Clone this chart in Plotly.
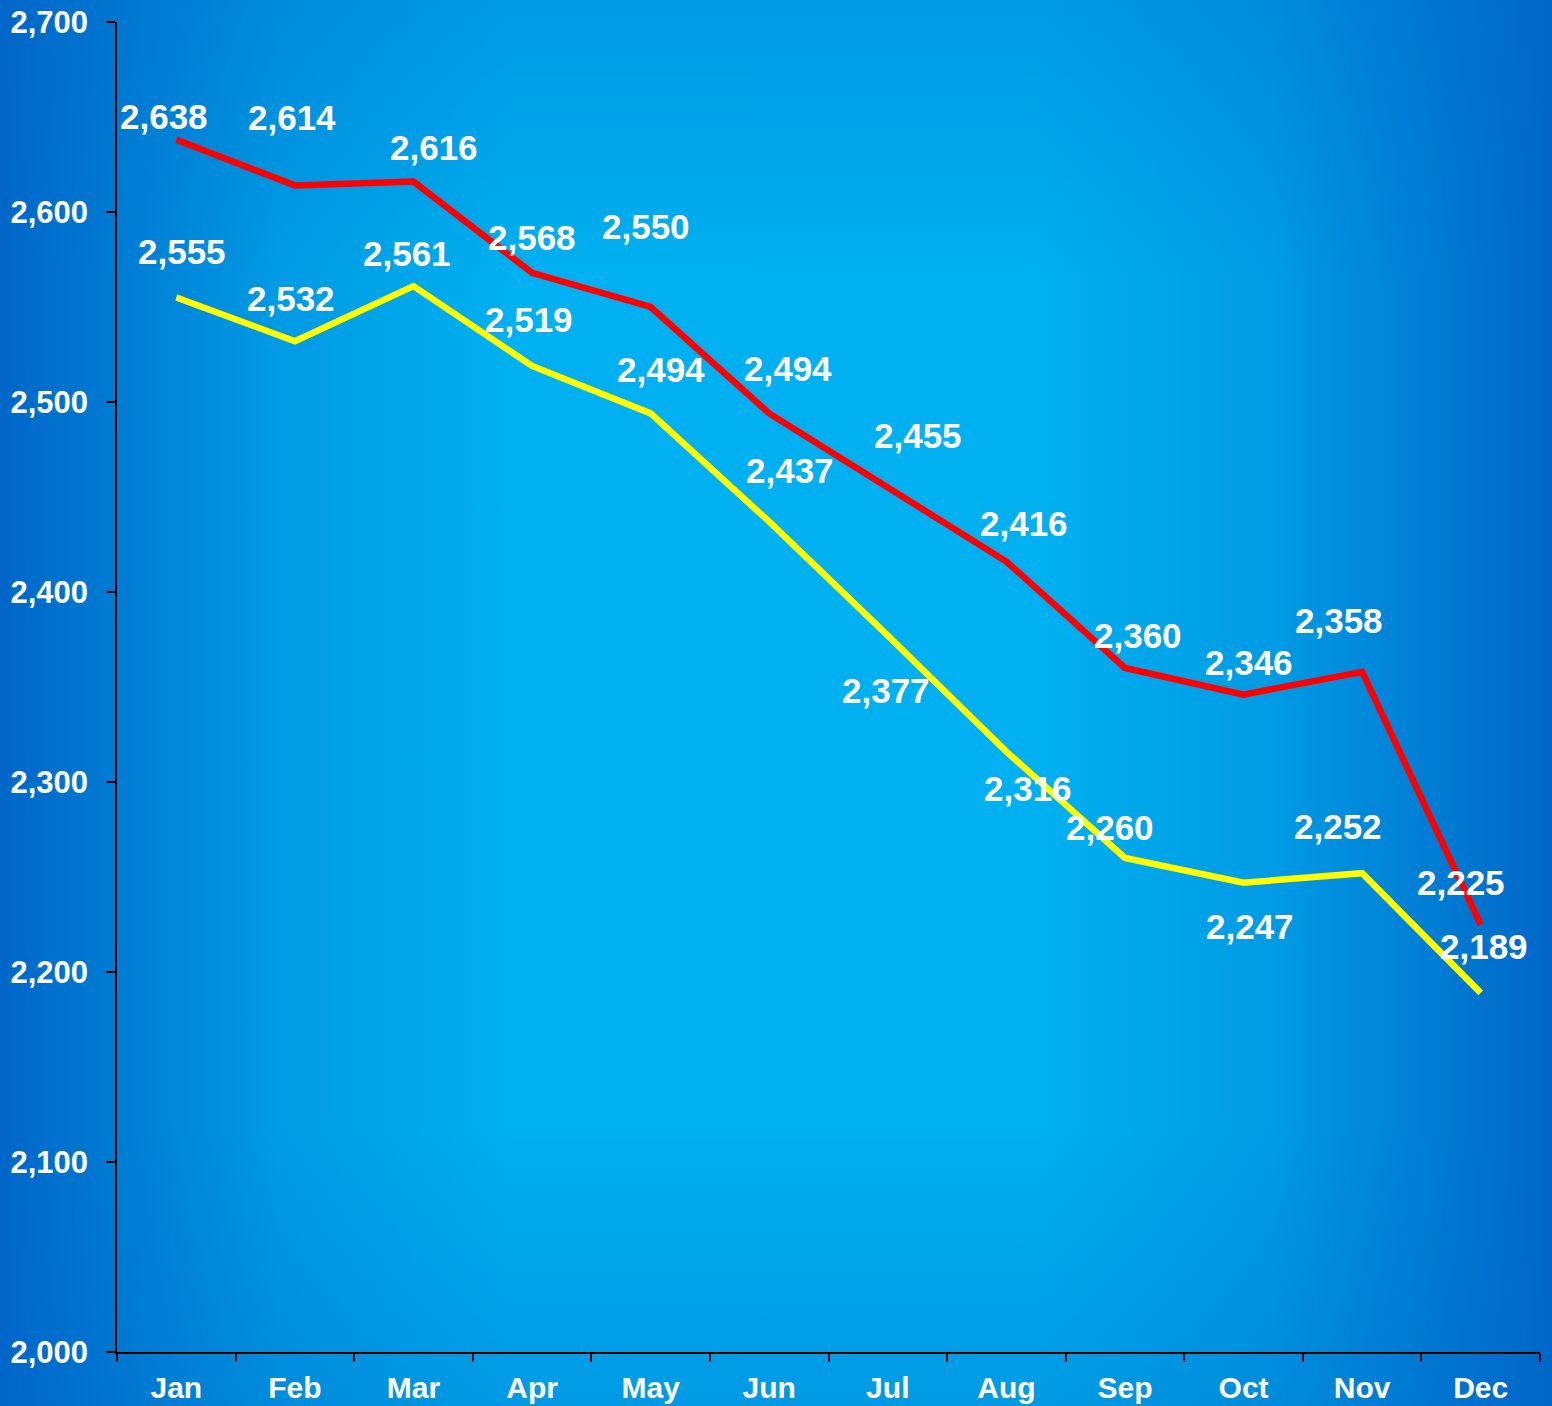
import base64
import plotly.graph_objects as go

months = ["Jan", "Feb", "Mar", "Apr", "May", "Jun", "Jul", "Aug", "Sep", "Oct", "Nov", "Dec"]
red_values = [2638, 2614, 2616, 2568, 2550, 2494, 2455, 2416, 2360, 2346, 2358, 2225]
yellow_values = [2555, 2532, 2561, 2519, 2494, 2437, 2377, 2316, 2260, 2247, 2252, 2189]
y_ticks = [2000, 2100, 2200, 2300, 2400, 2500, 2600, 2700]

# label offsets (pixels; style only)
red_dx = [-12, -3, 21, 0, -5, 19, 30, 18, 13, 5, -23, -20]
red_dy = [23, 68, 34, 35, 81, 45, 52, 38, 33, 32, 51, 42]
yel_dx = [6, -4, -6, -3, 10, 21, -2, 22, -15, 6, -24, 3]
yel_dy = [46, 43, 33, 46, 44, 51, -55, -37, 31, -44, 47, 46]

W, H = 1552, 1406
ML, MR, MT, MB = 117, 12, 22, 54
PW, PH = W - ML - MR, H - MT - MB

FONT = "Liberation Sans, Arial, sans-serif"

svg = f'''<svg xmlns="http://www.w3.org/2000/svg" width="{W}" height="{H}" viewBox="0 0 {W} {H}" preserveAspectRatio="none">
<defs>
<linearGradient id="h" x1="0" y1="0" x2="1" y2="0">
<stop offset="0" stop-color="#0066c8"/>
<stop offset="0.18" stop-color="#009be4"/>
<stop offset="0.33" stop-color="#00b0f0"/>
<stop offset="0.67" stop-color="#00b0f0"/>
<stop offset="0.82" stop-color="#009be4"/>
<stop offset="1" stop-color="#0066c8"/>
</linearGradient>
<linearGradient id="v" x1="0" y1="0" x2="0" y2="1">
<stop offset="0" stop-color="#0066c8" stop-opacity="0.3"/>
<stop offset="0.2" stop-color="#0066c8" stop-opacity="0"/>
<stop offset="0.8" stop-color="#0066c8" stop-opacity="0"/>
<stop offset="1" stop-color="#0066c8" stop-opacity="0.3"/>
</linearGradient>
</defs>
<rect width="{W}" height="{H}" fill="url(#h)"/>
<rect width="{W}" height="{H}" fill="url(#v)"/>
</svg>'''
bg_uri = "data:image/svg+xml;base64," + base64.b64encode(svg.encode()).decode()

fig = go.Figure()
fig.add_trace(go.Scatter(x=months, y=yellow_values, mode="lines",
                         line=dict(color="#ffff00", width=6.5), hoverinfo="skip"))
fig.add_trace(go.Scatter(x=months, y=red_values, mode="lines",
                         line=dict(color="#ff0000", width=6.5), hoverinfo="skip"))

annotations = []
for vals, dxs, dys in ((red_values, red_dx, red_dy), (yellow_values, yel_dx, yel_dy)):
    for m, v, dx, dy in zip(months, vals, dxs, dys):
        annotations.append(dict(x=m, y=v, xref="x", yref="y", text=f"{v:,}",
                                showarrow=False, xshift=dx, yshift=dy,
                                font=dict(family=FONT, size=35, color="white", weight="bold")))

fig.update_layout(
    width=W, height=H, autosize=False,
    margin=dict(l=ML, r=MR, t=MT, b=MB, pad=0, autoexpand=False),
    paper_bgcolor="#0088da",
    plot_bgcolor="rgba(0,0,0,0)",
    showlegend=False,
    annotations=annotations,
    images=[dict(source=bg_uri, xref="paper", yref="paper",
                 x=-ML / PW, y=1 + MT / PH, sizex=W / PW, sizey=H / PH,
                 xanchor="left", yanchor="top", sizing="stretch", layer="below")],
    xaxis=dict(
        type="category", categoryorder="array", categoryarray=months,
        range=[-0.5, 11.5], tickson="boundaries",
        showline=True, linecolor="black", linewidth=1.5,
        ticks="outside", ticklen=8, tickwidth=1.5, tickcolor="black",
        showgrid=False, zeroline=False,
        tickfont=dict(family=FONT, size=30, color="white", weight="bold"),
        ticklabelstandoff=8,
    ),
    yaxis=dict(
        range=[2000, 2700], tickvals=y_ticks,
        ticktext=[f"{t:,}" for t in y_ticks],
        showline=True, linecolor="black", linewidth=1.5,
        ticks="outside", ticklen=9, tickwidth=1.5, tickcolor="black",
        showgrid=False, zeroline=False,
        tickfont=dict(family=FONT, size=31, color="white", weight="bold"),
        ticklabelstandoff=12,
    ),
)

fig.write_html("out.html", config={"displayModeBar": False},
               post_script="document.body.style.margin='0px';document.body.style.overflow='hidden';")
